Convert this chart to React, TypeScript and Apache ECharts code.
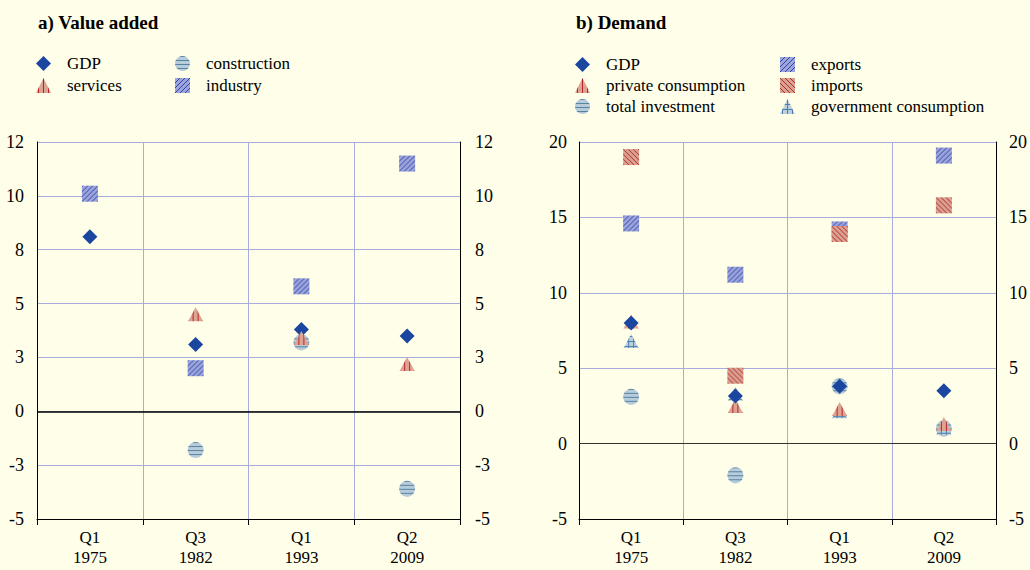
import React, { useEffect, useRef } from 'react';
import * as echarts from 'echarts';

const categories = ['Q1\n1975', 'Q3\n1982', 'Q1\n1993', 'Q2\n2009'];

// a) Value added
const vaGDP = [8.1, 3.1, 3.8, 3.5];
const vaServices = [null, 4.5, 3.4, 2.2];
const vaConstruction = [null, -1.8, 3.2, -3.6];
const vaIndustry = [10.1, 2.0, 5.8, 11.5];

// b) Demand
const dGDP = [8.0, 3.15, 3.8, 3.5];
const dPrivate = [8.1, 2.5, 2.3, 1.3];
const dInvestment = [3.1, -2.1, 3.8, 1.0];
const dExports = [14.6, 11.2, 14.2, 19.1];
const dImports = [19.0, 4.5, 13.9, 15.8];
const dGovernment = [6.8, 3.3, 2.15, 1.05];

const leftTickValues = [-5, -2.5, 0, 2.5, 5, 7.5, 10, 12.5];
const leftTickLabels = ['-5', '-3', '0', '3', '5', '8', '10', '12'];
const rightTickValues = [-5, 0, 5, 10, 15, 20];
const rightTickLabels = ['-5', '0', '5', '10', '15', '20'];

const FONT = 'Liberation Serif';
const GRID_COLOR = '#a6acdc';
const BG = '#fefee9';

const STYLE: any = {
  gdp: { symbol: 'diamond', size: [15, 15], fill: '#1b46a0' },
  vstripe: { symbol: 'triangle', size: [15, 14], fill: '#dea493', line: '#b5262a', tile: 'v' },
  hstripe: { symbol: 'circle', size: [16, 16], fill: '#b8cbd8', line: '#5583a3', tile: 'h' },
  blueSq: { symbol: 'rect', size: [16, 16], fill: '#9ca4da', line: '#2f47ad', tile: 'slash' },
  redSq: { symbol: 'rect', size: [16, 16], fill: '#d9a190', line: '#b52a2a', tile: 'backslash' },
  grid: { symbol: 'triangle', size: [15, 14], fill: '#bfd0dc', line: '#4a80ad', tile: 'grid' },
};

function makeFill(kind: string, scaled: boolean): any {
  const s = STYLE[kind];
  if (!s.tile) return s.fill;
  const n = s.tile === 'h' ? 4 : 5;
  const c = document.createElement('canvas');
  c.width = n;
  c.height = n;
  const ctx = c.getContext('2d')!;
  ctx.fillStyle = s.fill;
  ctx.fillRect(0, 0, n, n);
  ctx.fillStyle = s.line;
  if (s.tile === 'v') ctx.fillRect(2, 0, 1, n);
  if (s.tile === 'h') ctx.fillRect(0, 0, n, 1);
  if (s.tile === 'grid') {
    ctx.fillRect(0, 0, n, 1);
    ctx.fillRect(2, 0, 1, n);
  }
  if (s.tile === 'slash') for (let i = 0; i < n; i++) ctx.fillRect(i, n - 1 - i, 1, 1);
  if (s.tile === 'backslash') for (let i = 0; i < n; i++) ctx.fillRect(i, i, 1, 1);
  const p: any = { image: c, repeat: 'repeat', imageWidth: n, imageHeight: n };
  if (scaled) {
    p.scaleX = 2 / s.size[0];
    p.scaleY = 2 / s.size[1];
  }
  return p;
}

function scatter(name: string, data: (number | null)[], kind: string, gi: number, fills: any, extra?: any) {
  const s = STYLE[kind];
  return {
    type: 'scatter',
    name,
    data: data.map((v) => (v === null ? '-' : v)),
    xAxisIndex: gi,
    yAxisIndex: gi * 2,
    symbol: s.symbol,
    symbolSize: s.size,
    itemStyle: { color: fills[kind], opacity: 1 },
    emphasis: { disabled: true },
    ...(extra || {}),
  };
}

function zeroLine(color: string, width: number) {
  return {
    markLine: {
      silent: true,
      symbol: ['none', 'none'],
      label: { show: false },
      lineStyle: { color, width, type: 'solid' },
      data: [{ yAxis: 0 }],
    },
  };
}

function legendItem(name: string, kind: string, left: number, top: number, legendFills: any) {
  return {
    data: [name],
    left,
    top,
    padding: 0,
    itemWidth: 15,
    itemHeight: 15,
    selectedMode: false,
    itemStyle: { color: legendFills[kind] },
    textStyle: { fontFamily: FONT, fontSize: 17, color: '#000', padding: [0, 0, 0, 11] },
  };
}

function xAxis(gi: number) {
  return {
    type: 'category',
    gridIndex: gi,
    data: categories,
    boundaryGap: true,
    axisLine: { show: true, onZero: false, lineStyle: { color: '#000', width: 1 } },
    axisTick: { show: true, length: 6, inside: false, lineStyle: { color: '#000' } },
    axisLabel: { fontFamily: FONT, fontSize: 17, color: '#000', lineHeight: 20, margin: 8, interval: 0 },
    splitLine: { show: true, interval: 0, lineStyle: { color: GRID_COLOR, width: 1 } },
  };
}

function yAxis(gi: number, pos: string, min: number, max: number, interval: number, vals: number[], labels: string[], margin: number) {
  return {
    type: 'value',
    gridIndex: gi,
    position: pos,
    min,
    max,
    interval,
    axisLine: { show: true, onZero: false, lineStyle: { color: '#000', width: 1 } },
    axisTick: { show: false },
    axisLabel: {
      fontFamily: FONT,
      fontSize: 18,
      color: '#000',
      margin,
      formatter: (v: number) => {
        const i = vals.findIndex((t) => Math.abs(t - v) < 1e-6);
        return i >= 0 ? labels[i] : '';
      },
    },
    splitLine: { show: pos === 'left', lineStyle: { color: GRID_COLOR, width: 1 } },
  };
}

export default function App() {
  const ref = useRef<HTMLDivElement>(null);
  useEffect(() => {
    if (!ref.current) return;
    const chart = echarts.init(ref.current, undefined, { renderer: 'svg' });
    const fills: any = {};
    const legendFills: any = {};
    Object.keys(STYLE).forEach((k) => {
      fills[k] = makeFill(k, true);
      legendFills[k] = makeFill(k, false);
    });
    chart.setOption({
      animation: false,
      backgroundColor: BG,
      textStyle: { fontFamily: FONT },
      title: [
        { text: 'a) Value added', left: 38, top: 13, padding: 0, textStyle: { fontFamily: FONT, fontSize: 19, fontWeight: 'bold', color: '#000' } },
        { text: 'b) Demand', left: 576, top: 13, padding: 0, textStyle: { fontFamily: FONT, fontSize: 19, fontWeight: 'bold', color: '#000' } },
      ],
      legend: [
        legendItem('GDP', 'gdp', 36, 55, legendFills),
        legendItem('services', 'vstripe', 36, 77, legendFills),
        legendItem('construction', 'hstripe', 175, 55, legendFills),
        legendItem('industry', 'blueSq', 175, 77, legendFills),
        legendItem('GDP', 'gdp', 575, 56, legendFills),
        legendItem('private consumption', 'vstripe', 575, 77, legendFills),
        legendItem('total investment', 'hstripe', 575, 98, legendFills),
        legendItem('exports', 'blueSq', 780, 56, legendFills),
        legendItem('imports', 'redSq', 780, 77, legendFills),
        legendItem('government consumption', 'grid', 780, 98, legendFills),
      ],
      grid: [
        { left: 37, top: 142, width: 423, height: 377 },
        { left: 579, top: 142, width: 421, height: 377 },
      ],
      xAxis: [xAxis(0), xAxis(1)],
      yAxis: [
        yAxis(0, 'left', -5, 12.5, 2.5, leftTickValues, leftTickLabels, 13),
        yAxis(0, 'right', -5, 12.5, 2.5, leftTickValues, leftTickLabels, 15),
        yAxis(1, 'left', -5, 20, 5, rightTickValues, rightTickLabels, 12),
        yAxis(1, 'right', -5, 20, 5, rightTickValues, rightTickLabels, 13),
      ],
      series: [
        scatter('industry', vaIndustry, 'blueSq', 0, fills, zeroLine('#000', 1.5)),
        scatter('construction', vaConstruction, 'hstripe', 0, fills),
        scatter('GDP', vaGDP, 'gdp', 0, fills),
        scatter('services', vaServices, 'vstripe', 0, fills),
        scatter('exports', dExports, 'blueSq', 1, fills, zeroLine('#333', 1)),
        scatter('imports', dImports, 'redSq', 1, fills),
        scatter('total investment', dInvestment, 'hstripe', 1, fills),
        scatter('government consumption', dGovernment, 'grid', 1, fills),
        scatter('private consumption', dPrivate, 'vstripe', 1, fills),
        scatter('GDP', dGDP, 'gdp', 1, fills),
      ],
    });
    return () => chart.dispose();
  }, []);
  return (
    <div
      ref={ref}
      style={{ position: 'fixed', left: 0, top: 0, width: 1030, height: 570, background: BG }}
    />
  );
}
